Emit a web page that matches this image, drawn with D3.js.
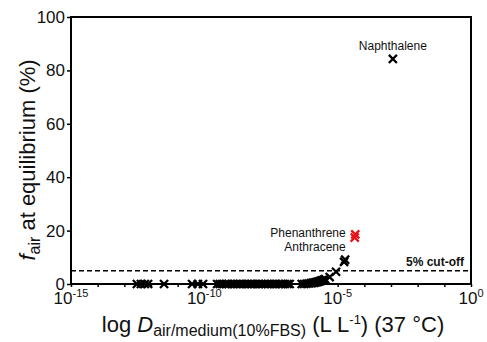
<!DOCTYPE html>
<html><head><meta charset="utf-8">
<script src="https://cdn.jsdelivr.net/npm/d3@7"></script>
<style>body{margin:0;background:#fff}svg{display:block}text{font-family:"Liberation Sans",Arial,sans-serif;fill:#111}</style>
</head><body><svg id="c" width="487" height="342"></svg>
<script>
// log10 D values (x) and f_air % (y)
const blackLogD = [-12.53,-12.38,-12.23,-12.11,-11.51,-10.46,-10.24,-10.05,
 -9.52,-9.42,-9.33,-9.2,-9.1,-8.98,-8.9,-8.78,-8.66,-8.57,-8.46,-8.36,-8.25,-8.15,-8.04,-7.95,-7.85,-7.72,-7.62,-7.52,-7.4,-7.31,-7.2,-7.1,-6.98,-6.88,-6.8,
 -6.35,-6.26,-6.17,-6.08,-6.0,-5.94,-5.88,-5.83,-5.78,-5.73,-5.68,-5.63,-5.58,-5.52,-5.47,-5.3,-5.06,-4.76,-4.72,-2.93];
const blackFair = [0,0,0,0,0,0,0,0,
 0,0,0,0,0,0,0,0,0,0,0,0,0,0,0,0,0,0,0,0,0,0,0,0,0,0,0,
 0,0,0.1,0.2,0.3,0.4,0.5,0.6,0.7,0.9,1.0,1.2,1.4,1.6,1.8,2.6,4.6,8.3,9.1,84.3];
const redLogD = [-4.36,-4.34];
const redFair = [17.4,18.6];
const xTickExp = [-15,-10,-5,0];
const yTicks = [0,20,40,60,80,100];
const cutoff = 5;

const svg = d3.select("#c");
const x = d3.scaleLog().domain([1e-15,1]).range([71,471]);
const y = d3.scaleLinear().domain([0,100]).range([284,17]);

// frame
svg.append("rect").attr("x",71).attr("y",17).attr("width",400).attr("height",267)
 .attr("fill","none").attr("stroke","#000").attr("stroke-width",2);

// x axis
const xa = svg.append("g").attr("transform","translate(0,284)")
 .call(d3.axisBottom(x).tickValues(d3.range(-15,1).map(e=>Math.pow(10,e))).tickSize(3).tickFormat(""));
xa.select(".domain").remove();
xa.selectAll("line").attr("stroke","#000").attr("stroke-width",1.5);
xTickExp.forEach(e=>{
  const t = svg.append("text").attr("x",x(Math.pow(10,e))).attr("y",304).attr("text-anchor","middle").style("font-size","17px");
  t.append("tspan").text("10");
  t.append("tspan").attr("dy",-7).style("font-size","11px").text(e===0?"0":"-"+(-e));
});
// y axis
const ya = svg.append("g").attr("transform","translate(71,0)")
 .call(d3.axisLeft(y).tickValues(yTicks).tickSize(4).tickPadding(2));
ya.select(".domain").remove();
ya.selectAll("line").attr("stroke","#000").attr("stroke-width",1.5);
ya.selectAll("text").style("font-size","17px").style("font-family","Liberation Sans, Arial, sans-serif").attr("fill","#111");

// cutoff line
svg.append("line").attr("x1",71).attr("x2",471).attr("y1",y(cutoff)).attr("y2",y(cutoff))
 .attr("stroke","#000").attr("stroke-width",1.5).attr("stroke-dasharray","5,3");
svg.append("text").attr("x",464).attr("y",y(cutoff)-5).attr("text-anchor","end")
 .style("font-size","12px").style("font-weight","bold").text("5% cut-off");

// markers
const xm = d3.symbol().type(d3.symbolX).size(44);
function pts(xs,ys,color){
  svg.append("g").selectAll("path").data(xs.map((v,i)=>[v,ys[i]])).join("path")
   .attr("d",xm).attr("transform",d=>`translate(${x(Math.pow(10,d[0]))},${y(d[1])})`)
   .attr("fill","none").attr("stroke",color).attr("stroke-width",2.3);
}
pts(blackLogD,blackFair,"#000");
pts(redLogD,redFair,"#e8141b");

// point labels
svg.append("text").attr("x",x(Math.pow(10,blackLogD[54]))).attr("y",y(blackFair[54])-9)
 .attr("text-anchor","middle").style("font-size","12px").attr("fill","#222").text("Naphthalene");
svg.append("text").attr("x",x(Math.pow(10,redLogD[0]))-9).attr("y",y(redFair[1])+3)
 .attr("text-anchor","end").style("font-size","12px").text("Phenanthrene");
svg.append("text").attr("x",x(Math.pow(10,redLogD[0]))-9).attr("y",y(redFair[0])+13)
 .attr("text-anchor","end").style("font-size","12px").text("Anthracene");

// x title
const xt = svg.append("text").attr("x",273).attr("y",332).attr("text-anchor","middle").style("font-size","22px");
xt.append("tspan").text("log ");
xt.append("tspan").style("font-style","italic").text("D");
xt.append("tspan").attr("dy",4).style("font-size","16px").text("air/medium(10%FBS)");
xt.append("tspan").attr("dy",-4).text(" (L L");
xt.append("tspan").attr("dy",-8).style("font-size","13px").text("-1");
xt.append("tspan").attr("dy",8).text(") (37 °C)");

// y title
const yt = svg.append("text").attr("transform","translate(35,160) rotate(-90)").attr("text-anchor","middle").style("font-size","22px");
yt.append("tspan").style("font-style","italic").text("f");
yt.append("tspan").attr("dy",5).style("font-size","16px").text("air");
yt.append("tspan").attr("dy",-5).text(" at equilibrium (%)");
</script></body></html>
